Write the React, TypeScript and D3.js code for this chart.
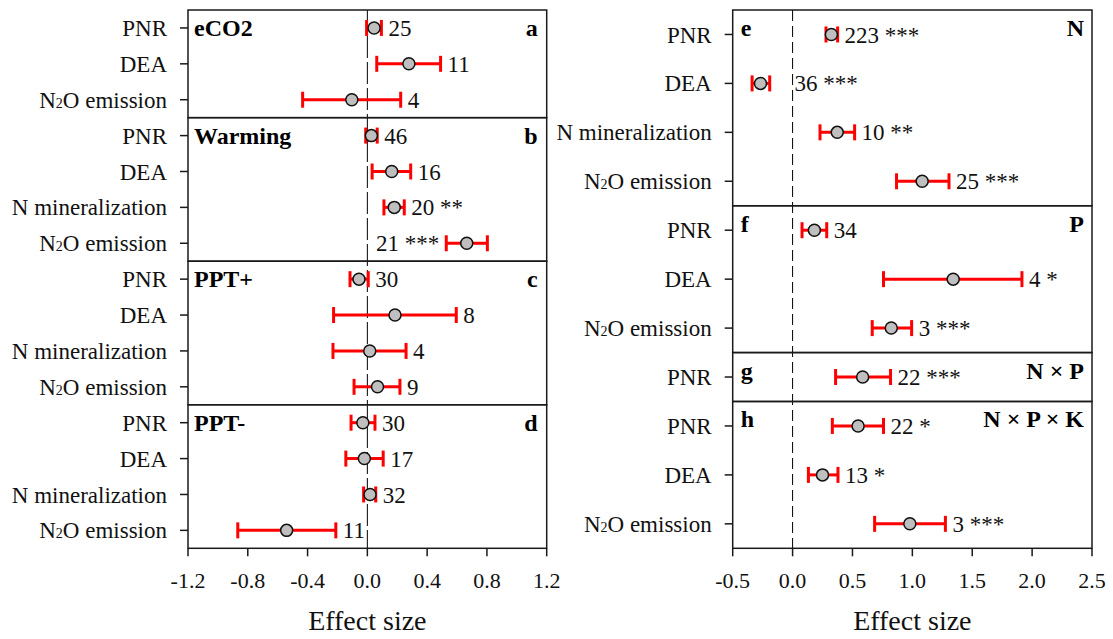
import { useRef, useEffect } from "react";
import * as d3 from "d3";

// left block: global change factors
const leftGroups = ["eCO2", "Warming", "PPT+", "PPT-"];
const leftTags = ["a", "b", "c", "d"];
const leftVars = [
  ["PNR", "DEA", "N₂O emission"],
  ["PNR", "DEA", "N mineralization", "N₂O emission"],
  ["PNR", "DEA", "N mineralization", "N₂O emission"],
  ["PNR", "DEA", "N mineralization", "N₂O emission"],
];
const leftMean = [
  [0.045, 0.278, -0.104],
  [0.027, 0.163, 0.18, 0.665],
  [-0.056, 0.185, 0.016, 0.068],
  [-0.03, -0.02, 0.018, -0.54],
];
const leftLo = [
  [-0.005, 0.063, -0.433],
  [-0.011, 0.032, 0.111, 0.528],
  [-0.116, -0.226, -0.23, -0.089],
  [-0.109, -0.144, -0.025, -0.867],
];
const leftHi = [
  [0.094, 0.49, 0.223],
  [0.066, 0.29, 0.247, 0.803],
  [0.006, 0.595, 0.259, 0.218],
  [0.051, 0.106, 0.056, -0.211],
];
const leftN = [
  ["25", "11", "4"],
  ["46", "16", "20 **", "21 ***"],
  ["30", "8", "4", "9"],
  ["30", "17", "32", "11"],
];
// r = after the bar, l = before the bar, z = next to the zero line
const leftLabelAt = [
  ["r", "r", "r"],
  ["r", "r", "r", "l"],
  ["r", "r", "r", "r"],
  ["r", "r", "r", "r"],
];
const leftTicks = [-1.2, -0.8, -0.4, 0.0, 0.4, 0.8, 1.2];

// right block: nutrient addition
const rightGroups = ["N", "P", "N × P", "N × P × K"];
const rightTags = ["e", "f", "g", "h"];
const rightVars = [
  ["PNR", "DEA", "N mineralization", "N₂O emission"],
  ["PNR", "DEA", "N₂O emission"],
  ["PNR"],
  ["PNR", "DEA", "N₂O emission"],
];
const rightMean = [
  [0.324, -0.268, 0.373, 1.082],
  [0.182, 1.341, 0.824],
  [0.585],
  [0.547, 0.25, 0.979],
];
const rightLo = [
  [0.279, -0.338, 0.229, 0.868],
  [0.079, 0.759, 0.665],
  [0.359],
  [0.332, 0.132, 0.685],
];
const rightHi = [
  [0.376, -0.191, 0.518, 1.306],
  [0.285, 1.915, 0.994],
  [0.818],
  [0.759, 0.379, 1.276],
];
const rightN = [
  ["223 ***", "36 ***", "10 **", "25 ***"],
  ["34", "4 *", "3 ***"],
  ["22 ***"],
  ["22 *", "13 *", "3 ***"],
];
const rightLabelAt = [
  ["r", "z", "r", "r"],
  ["r", "r", "r"],
  ["r"],
  ["r", "r", "r"],
];
const rightTicks = [-0.5, 0.0, 0.5, 1.0, 1.5, 2.0, 2.5];

const FONT = "'Liberation Serif', Tinos, 'Times New Roman', Times, 'DejaVu Serif', serif";

function drawBlock(svg, opt) {
  const { x0, x1, top, bottom, domain, ticks, groups, tags, vars, mean, lo, hi, ns, labelAt, titleLeft, zeroDash } = opt;

  const rows = [];
  vars.forEach((vs, p) => vs.forEach((v, i) => rows.push({ id: `${p}-${i}`, p, i, name: v })));

  const x = d3.scaleLinear().domain(domain).range([x0, x1]);
  const y = d3.scaleBand().domain(rows.map((r) => r.id)).range([top, bottom]);
  const bw = y.bandwidth();
  const cy = (id) => y(id) + bw / 2;

  const g = svg.append("g").style("font-family", FONT);

  // zero line
  g.append("line")
    .attr("x1", x(0))
    .attr("x2", x(0))
    .attr("y1", top)
    .attr("y2", bottom)
    .attr("stroke", "#000")
    .attr("stroke-width", 1)
    .attr("stroke-dasharray", zeroDash);

  // panel frames
  groups.forEach((name, p) => {
    const first = y(`${p}-0`);
    const last = y(`${p}-${vars[p].length - 1}`) + bw;
    g.append("rect")
      .attr("x", x0)
      .attr("y", first)
      .attr("width", x1 - x0)
      .attr("height", last - first)
      .attr("fill", "none")
      .attr("stroke", "#1a1a1a")
      .attr("stroke-width", 1.5);

    const title = g.append("text")
      .attr("y", first + 26)
      .style("font-family", FONT)
      .attr("font-weight", "bold")
      .attr("font-size", "24px")
      .attr("fill", "#000");
    const tag = g.append("text")
      .attr("y", first + 26)
      .style("font-family", FONT)
      .attr("font-weight", "bold")
      .attr("font-size", "24px")
      .attr("fill", "#000");
    if (titleLeft) {
      title.attr("x", x0 + 6).text(name);
      tag.attr("x", x1 - 9).attr("text-anchor", "end").text(tags[p]);
    } else {
      tag.attr("x", x0 + 8).text(tags[p]);
      title.attr("x", x1 - 8).attr("text-anchor", "end").text(name);
    }
  });

  // y ticks + category labels
  rows.forEach((r) => {
    g.append("line")
      .attr("x1", x0 - 8)
      .attr("x2", x0)
      .attr("y1", cy(r.id))
      .attr("y2", cy(r.id))
      .attr("stroke", "#1a1a1a")
      .attr("stroke-width", 1.5);

    const t = g.append("text")
      .attr("x", x0 - 21)
      .attr("y", cy(r.id))
      .attr("dy", "0.35em")
      .attr("text-anchor", "end")
      .style("font-family", FONT)
      .attr("font-size", "23px")
      .attr("fill", "#111");
    const parts = r.name.split("₂");
    if (parts.length > 1) {
      t.append("tspan").text(parts[0]);
      t.append("tspan").attr("font-size", "14px").text("2");
      t.append("tspan").text(parts[1]);
    } else {
      t.text(r.name);
    }
  });

  // error bars and means
  rows.forEach((r) => {
    const m = mean[r.p][r.i];
    const l = lo[r.p][r.i];
    const h = hi[r.p][r.i];
    const yy = cy(r.id);

    g.append("line")
      .attr("x1", x(l))
      .attr("x2", x(h))
      .attr("y1", yy)
      .attr("y2", yy)
      .attr("stroke", "#ff0000")
      .attr("stroke-width", 3);
    [l, h].forEach((v) => {
      g.append("line")
        .attr("x1", x(v))
        .attr("x2", x(v))
        .attr("y1", yy - 8)
        .attr("y2", yy + 8)
        .attr("stroke", "#ff0000")
        .attr("stroke-width", 3);
    });
    g.append("circle")
      .attr("cx", x(m))
      .attr("cy", yy)
      .attr("r", 6)
      .attr("fill", "#bfbfbf")
      .attr("stroke", "#111")
      .attr("stroke-width", 1.5);

    const where = labelAt[r.p][r.i];
    const lab = g.append("text")
      .attr("y", yy)
      .attr("dy", "0.35em")
      .style("font-family", FONT)
      .attr("font-size", "23px")
      .attr("fill", "#111")
      .text(ns[r.p][r.i]);
    if (where === "l") lab.attr("x", x(l) - 7).attr("text-anchor", "end");
    else if (where === "z") lab.attr("x", x(0) + 2);
    else lab.attr("x", x(h) + 7);
  });

  // x axis
  ticks.forEach((t) => {
    g.append("line")
      .attr("x1", x(t))
      .attr("x2", x(t))
      .attr("y1", bottom)
      .attr("y2", bottom + 8)
      .attr("stroke", "#1a1a1a")
      .attr("stroke-width", 1.5);
    g.append("text")
      .attr("x", x(t))
      .attr("y", 588)
      .attr("text-anchor", "middle")
      .style("font-family", FONT)
      .attr("font-size", "22px")
      .attr("fill", "#111")
      .text(t.toFixed(1));
  });

  g.append("text")
    .attr("x", (x0 + x1) / 2)
    .attr("y", 630)
    .attr("text-anchor", "middle")
    .style("font-family", FONT)
    .attr("font-size", "28px")
    .attr("fill", "#111")
    .text("Effect size");
}

export default function App() {
  const svgRef = useRef(null);

  useEffect(() => {
    const svg = d3.select(svgRef.current);
    svg.selectAll("*").remove();

    drawBlock(svg, {
      x0: 188, x1: 546.7, top: 10, bottom: 548.3,
      domain: [-1.2, 1.2], ticks: leftTicks,
      groups: leftGroups, tags: leftTags, vars: leftVars,
      mean: leftMean, lo: leftLo, hi: leftHi, ns: leftN, labelAt: leftLabelAt,
      titleLeft: true, zeroDash: "22,4",
    });

    drawBlock(svg, {
      x0: 732.7, x1: 1092, top: 10, bottom: 548.3,
      domain: [-0.5, 2.5], ticks: rightTicks,
      groups: rightGroups, tags: rightTags, vars: rightVars,
      mean: rightMean, lo: rightLo, hi: rightHi, ns: rightN, labelAt: rightLabelAt,
      titleLeft: false, zeroDash: "11,5",
    });
  }, []);

  return (
    <svg
      ref={svgRef}
      width={1113}
      height={639}
      style={{ position: "absolute", left: 0, top: 0, background: "#fff" }}
    />
  );
}
